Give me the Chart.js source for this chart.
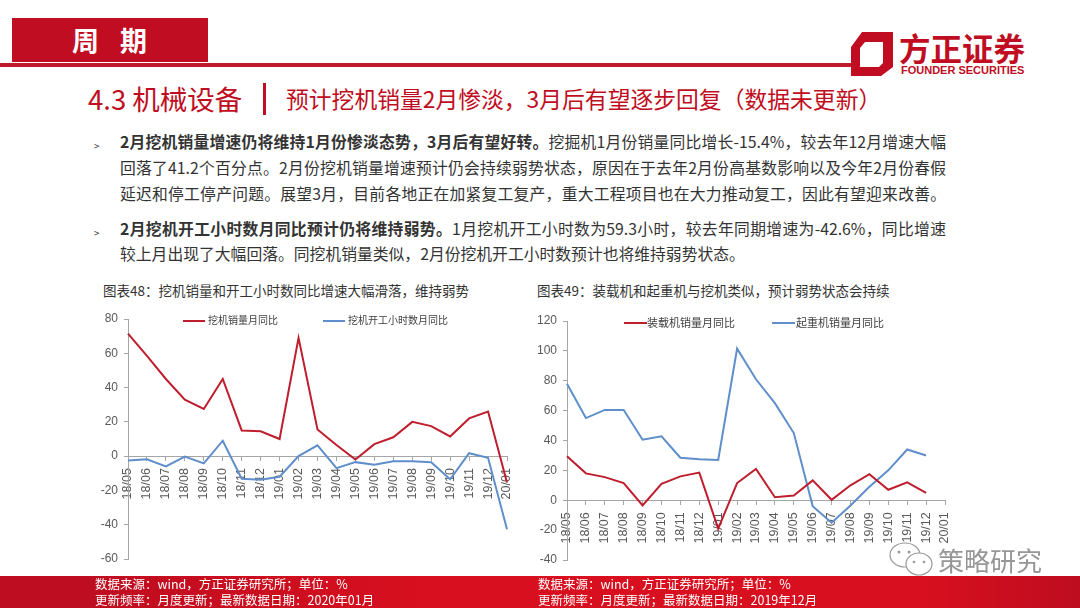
<!DOCTYPE html>
<html lang="zh-CN">
<head>
<meta charset="UTF-8">
<title>周期 | 机械设备</title>
<script src="https://cdn.jsdelivr.net/npm/chart.js"></script>
<style>
  html, body { margin: 0; padding: 0; background: #fff; }
  body { position: relative; width: 1080px; height: 608px; overflow: hidden; font-family: "Noto Sans CJK SC", "Noto Sans", sans-serif; color: #333; }
  .abs { position: absolute; white-space: nowrap; }
  .tag { left: 12px; top: 18px; width: 196px; height: 44px; background: #C00D22; }
  .tagText { left: 72px; top: 18px; color: #fff; font-size: 27px; font-weight: bold; line-height: 44px; letter-spacing: 21px; }
  .rule { left: 0; top: 63px; width: 856px; height: 4px; background: #BE1A2B; }
  .head1 { left: 88px; top: 79px; font-size: 27.5px; line-height: 38px; color: #C00D22; }
  .bar { left: 263px; top: 83px; width: 3px; height: 32px; background: #C00D22; }
  .head2 { left: 286px; top: 83px; font-size: 22.8px; line-height: 32px; color: #C00D22; }
  .logoCn { left: 899px; top: 26px; font-size: 31.5px; line-height: 42px; font-weight: bold; color: #C00D22; }
  .logoEn { left: 901px; top: 64px; font-family: "Liberation Sans", sans-serif; font-size: 11px; line-height: 13px; font-weight: bold; color: #C00D22; }
  .line { left: 120px; width: 826px; font-size: 15.8px; line-height: 26px; white-space: normal; }
  .fill { text-align: justify; text-align-last: justify; }
  .bullet { left: 94px; font-size: 10px; line-height: 12px; color: #333; }
  .figTitle { font-size: 13.5px; line-height: 20px; color: #333; }
  canvas { position: absolute; }
  .legend { font-size: 11px; line-height: 14px; color: #404040; }
  .legendSmall { font-size: 10px; }
  .swatch { position: absolute; height: 2px; }
  .foot { left: 0; top: 576px; width: 1080px; height: 32px; background: linear-gradient(90deg, #BE0D20 0, #BE0D20 8%, #D80F1E 40%, #D80F1E 85%, #BE0D20 100%); }
  .footText { font-size: 12.5px; line-height: 16px; color: #fff; }
  .mark { left: 938px; top: 543px; font-size: 26px; line-height: 34px; color: #969696; }
</style>
</head>
<body>

<div class="abs tag"></div>
<div class="abs tagText">周期</div>
<div class="abs rule"></div>
<svg class="abs" style="left:848px;top:30px" width="48" height="48" viewBox="0 0 48 48">
  <path d="M14 2 H45 V37 L33 46 H3 V17 Z M17 12 L12 18 V37 H31 L35 33 V12 Z" fill="#C00D22" fill-rule="evenodd"/>
</svg>
<div class="abs logoCn">方正证券</div>
<div class="abs logoEn">FOUNDER SECURITIES</div>

<div class="abs head1">4.3 机械设备</div>
<div class="abs bar"></div>
<div class="abs head2">预计挖机销量2月惨淡，3月后有望逐步回复（数据未更新）</div>

<div class="abs bullet" style="top:140px">&gt;</div>
<div class="abs line fill" style="top:129px"><b>2月挖机销量增速仍将维持1月份惨淡态势，3月后有望好转。</b>挖掘机1月份销量同比增长-15.4%，较去年12月增速大幅</div>
<div class="abs line fill" style="top:155px">回落了41.2个百分点。2月份挖机销量增速预计仍会持续弱势状态，原因在于去年2月份高基数影响以及今年2月份春假</div>
<div class="abs line fill" style="top:181px">延迟和停工停产问题。展望3月，目前各地正在加紧复工复产，重大工程项目也在大力推动复工，因此有望迎来改善。</div>
<div class="abs bullet" style="top:227px">&gt;</div>
<div class="abs line fill" style="top:216px"><b>2月挖机开工小时数月同比预计仍将维持弱势。</b>1月挖机开工小时数为59.3小时，较去年同期增速为-42.6%，同比增速</div>
<div class="abs line" style="top:241px">较上月出现了大幅回落。同挖机销量类似，2月份挖机开工小时数预计也将维持弱势状态。</div>

<div class="abs figTitle" style="left:103px;top:280px">图表48：挖机销量和开工小时数同比增速大幅滑落，维持弱势</div>
<div class="abs figTitle" style="left:537px;top:280px">图表49：装载机和起重机与挖机类似，预计弱势状态会持续</div>

<canvas id="chartLeft" width="450" height="280" style="left:80px;top:300px"></canvas>
<canvas id="chartRight" width="450" height="280" style="left:530px;top:300px"></canvas>

<div class="abs swatch" id="swatchL1" style="left:183px;top:320px;width:22px"></div>
<div class="abs legend legendSmall" id="legendL1" style="left:208px;top:313px"></div>
<div class="abs swatch" id="swatchL2" style="left:323px;top:320px;width:22px"></div>
<div class="abs legend legendSmall" id="legendL2" style="left:348px;top:313px"></div>
<div class="abs swatch" id="swatchR1" style="left:624px;top:322px;width:23px"></div>
<div class="abs legend" id="legendR1" style="left:647px;top:315px"></div>
<div class="abs swatch" id="swatchR2" style="left:772px;top:322px;width:23px"></div>
<div class="abs legend" id="legendR2" style="left:796px;top:315px"></div>

<svg class="abs" style="left:888px;top:541px" width="48" height="36" viewBox="0 0 48 36">
  <ellipse cx="17" cy="14" rx="15" ry="12" fill="#fff" stroke="#9a9a9a" stroke-width="1.2"/>
  <ellipse cx="31" cy="23" rx="13" ry="11" fill="#fff" stroke="#9a9a9a" stroke-width="1.2"/>
  <circle cx="11" cy="11" r="1.5" fill="#9a9a9a"/><circle cx="21" cy="11" r="1.5" fill="#9a9a9a"/>
  <circle cx="26" cy="21" r="1.3" fill="#9a9a9a"/><circle cx="36" cy="21" r="1.3" fill="#9a9a9a"/>
</svg>
<div class="abs mark">策略研究</div>

<div class="abs foot"></div>
<div class="abs footText" style="left:95px;top:576px">数据来源：wind，方正证券研究所；单位：%</div>
<div class="abs footText" style="left:95px;top:592px">更新频率：月度更新；最新数据日期：2020年01月</div>
<div class="abs footText" style="left:538px;top:576px">数据来源：wind，方正证券研究所；单位：%</div>
<div class="abs footText" style="left:538px;top:592px">更新频率：月度更新；最新数据日期：2019年12月</div>

<script>
  const months = ['18/05', '18/06', '18/07', '18/08', '18/09', '18/10', '18/11', '18/12', '19/01', '19/02', '19/03',
    '19/04', '19/05', '19/06', '19/07', '19/08', '19/09', '19/10', '19/11', '19/12', '20/01'];

  // 图表48
  const excavatorSales = [71.5, 58.5, 45, 33, 27.5, 45, 15, 14.5, 10, 69, 15.5, 6.5, -2, 7, 11, 20, 17.5, 11.5, 22, 26, -15.4];
  const excavatorHours = [-2.5, -1.8, -6, -0.3, -4.2, 9, -13.2, -13.8, -12, 0, 6.3, -7, -3.5, -5, -3, -3, -3.5, -13.5, 1.7, -1, -42.6];

  // 图表49
  const loaderSales = [29.5, 18, 15.5, 11.5, -3.5, 11, 16, 18.5, -19, 11.5, 21, 2, 3.2, 13.3, 0.3, 10, 17.5, 7, 12, 5, null];
  const craneSales = [78, 55, 60.5, 60.5, 40.5, 42.8, 28.5, 27.5, 27, 101.5, 81, 65, 45, -4, -15, -3.5, 9, 20, 34, 30, null];

  const RED = '#BE1E2D';
  const BLUE = '#5F8FCB';
  const AXIS = '#A6A6A6';
  const TICK_TEXT = '#595959';

  function drawChart(id, first, second, yMin, yMax, yStep, box) {
    return new Chart(document.getElementById(id), {
      type: 'line',
      data: {
        labels: months,
        datasets: [
          { label: first.label, data: first.data, borderColor: RED, borderWidth: 2, pointRadius: 0, tension: 0 },
          { label: second.label, data: second.data, borderColor: BLUE, borderWidth: 2, pointRadius: 0, tension: 0 }
        ]
      },
      options: {
        responsive: false,
        animation: false,
        devicePixelRatio: 1,
        layout: { padding: { top: box.top, bottom: box.bottom, right: box.right, left: 0 } },
        plugins: { legend: { display: false }, tooltip: { enabled: false } },
        scales: {
          x: {
            position: { y: 0 },
            offset: false,
            grid: { drawOnChartArea: false, drawTicks: true, tickLength: 4, color: AXIS },
            border: { color: AXIS, width: 1 },
            ticks: {
              autoSkip: false, minRotation: 90, maxRotation: 90, padding: 8,
              color: TICK_TEXT, font: { family: '"Liberation Sans"', size: 12.5 }
            }
          },
          y: {
            min: yMin, max: yMax,
            afterFit: (scale) => { scale.width = box.axisWidth; },
            grid: { drawOnChartArea: false, drawTicks: true, tickLength: 4, color: AXIS },
            border: { color: AXIS, width: 1 },
            ticks: {
              stepSize: yStep, padding: 6,
              color: TICK_TEXT, font: { family: '"Liberation Sans"', size: 12 }
            }
          }
        }
      }
    });
  }

  function fillLegend(chart, prefix) {
    chart.data.datasets.forEach((set, i) => {
      const n = i + 1;
      document.getElementById('swatch' + prefix + n).style.background = set.borderColor;
      document.getElementById('legend' + prefix + n).textContent = set.label;
    });
  }

  const chartLeft = drawChart('chartLeft',
    { label: '挖机销量月同比', data: excavatorSales },
    { label: '挖机开工小时数月同比', data: excavatorHours },
    -60, 80, 20, { axisWidth: 48, top: 19, bottom: 21, right: 23 });

  const chartRight = drawChart('chartRight',
    { label: '装载机销量月同比', data: loaderSales },
    { label: '起重机销量月同比', data: craneSales },
    -40, 120, 20, { axisWidth: 37, top: 21, bottom: 20, right: 35 });

  fillLegend(chartLeft, 'L');
  fillLegend(chartRight, 'R');
</script>
</body>
</html>
